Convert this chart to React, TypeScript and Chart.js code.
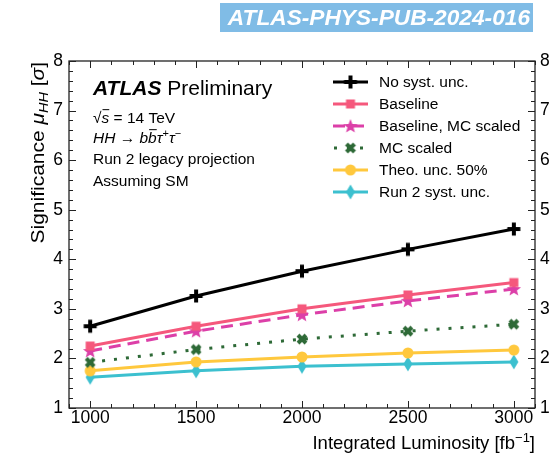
import React, { useEffect, useRef } from "react";
import { Chart, registerables } from "chart.js";

Chart.register(...registerables);

// ---------- data ----------
const luminosity = [1000, 1500, 2000, 2500, 3000];
const noSyst = [2.65, 3.26, 3.76, 4.2, 4.61];
const baseline = [2.25, 2.65, 3.0, 3.28, 3.53];
const baselineMC = [2.15, 2.55, 2.88, 3.16, 3.4];
const mcScaled = [1.92, 2.18, 2.39, 2.55, 2.69];
const theoUnc50 = [1.75, 1.93, 2.03, 2.11, 2.17];
const run2Syst = [1.62, 1.75, 1.84, 1.89, 1.93];

const seriesLabels = [
  "No syst. unc.",
  "Baseline",
  "Baseline, MC scaled",
  "MC scaled",
  "Theo. unc. 50%",
  "Run 2 syst. unc.",
];
const xTicks = [1000, 1500, 2000, 2500, 3000];
const yTicks = [1, 2, 3, 4, 5, 6, 7, 8];

// ---------- styles ----------
const seriesColors = ["#000000", "#f5587c", "#dc3fa8", "#2e6a37", "#ffc83d", "#3cc0cf"];
const seriesDash: number[][] = [[], [], [12, 7], [3, 9], [], []];
const seriesMarkers = ["plus", "square", "star", "x", "circle", "diamond"];
const FONT = '"Liberation Sans", Arial, Helvetica, sans-serif';

function makeMarker(kind: string, color: string): HTMLCanvasElement {
  const S = 20;
  const c = document.createElement("canvas");
  c.width = S;
  c.height = S;
  const g = c.getContext("2d")!;
  g.fillStyle = color;
  g.strokeStyle = color;
  const m = S / 2;
  g.beginPath();
  switch (kind) {
    case "plus":
      g.fillRect(m - 6.5, m - 2, 13, 4);
      g.fillRect(m - 2, m - 6.5, 4, 13);
      break;
    case "square":
      g.fillRect(m - 4.5, m - 4.5, 9, 9);
      break;
    case "star": {
      for (let i = 0; i < 10; i++) {
        const r = i % 2 === 0 ? 7.5 : 3.2;
        const a = -Math.PI / 2 + (i * Math.PI) / 5;
        const px = m + r * Math.cos(a);
        const py = m + 0.5 + r * Math.sin(a);
        if (i === 0) g.moveTo(px, py);
        else g.lineTo(px, py);
      }
      g.closePath();
      g.fill();
      break;
    }
    case "x":
      g.lineWidth = 4;
      g.moveTo(m - 4, m - 4);
      g.lineTo(m + 4, m + 4);
      g.moveTo(m + 4, m - 4);
      g.lineTo(m - 4, m + 4);
      g.stroke();
      g.beginPath();
      g.arc(m, m, 2.5, 0, Math.PI * 2);
      g.fill();
      break;
    case "circle":
      g.arc(m, m, 5.5, 0, Math.PI * 2);
      g.fill();
      break;
    case "diamond":
      g.moveTo(m, m - 7.5);
      g.lineTo(m + 4.5, m);
      g.lineTo(m, m + 7.5);
      g.lineTo(m - 4.5, m);
      g.closePath();
      g.fill();
      break;
  }
  return c;
}

type Run = { t: string; f: string; dy?: number; over?: boolean };

function drawRuns(ctx: CanvasRenderingContext2D, x: number, y: number, runs: Run[], align: "left" | "right" = "left") {
  let total = 0;
  for (const r of runs) {
    ctx.font = r.f;
    total += ctx.measureText(r.t).width;
  }
  let cx = align === "right" ? x - total : x;
  ctx.textAlign = "left";
  ctx.textBaseline = "alphabetic";
  for (const r of runs) {
    ctx.font = r.f;
    const w = ctx.measureText(r.t).width;
    ctx.fillText(r.t, cx, y + (r.dy || 0));
    if (r.over) {
      const size = parseFloat(r.f.match(/([\d.]+)px/)![1]);
      ctx.save();
      ctx.lineWidth = 1;
      ctx.strokeStyle = ctx.fillStyle as string;
      ctx.beginPath();
      const oy = y - size * 0.86;
      ctx.moveTo(cx + 1, oy);
      ctx.lineTo(cx + w, oy);
      ctx.stroke();
      ctx.restore();
    }
    cx += w;
  }
  return total;
}

export default function App() {
  const ref = useRef<HTMLCanvasElement>(null);

  useEffect(() => {
    document.body.style.margin = "0";
    const markers = seriesMarkers.map((k, i) => makeMarker(k, seriesColors[i]));
    const seriesValues = [noSyst, baseline, baselineMC, mcScaled, theoUnc50, run2Syst];

    const datasets = seriesValues.map((vals, i) => ({
      label: seriesLabels[i],
      data: luminosity.map((x, j) => ({ x, y: vals[j] })),
      borderColor: seriesColors[i],
      backgroundColor: seriesColors[i],
      borderWidth: 3,
      borderDash: seriesDash[i],
      pointStyle: markers[i] as any,
      pointRadius: 7,
      yAxisID: "y",
      tension: 0,
    }));

    const tickFont = { family: FONT, size: 17.5 };

    const overlay = {
      id: "overlay",
      afterDraw(chart: any) {
        const { ctx, chartArea: a, scales } = chart;
        const xs = scales.x;
        const ys = scales.y;
        ctx.save();
        // frame
        ctx.strokeStyle = "#222";
        ctx.lineWidth = 1.3;
        ctx.strokeRect(a.left, a.top, a.right - a.left, a.bottom - a.top);
        // x ticks (inward, both sides)
        ctx.lineWidth = 1;
        const xMinorStep = 100;
        for (let v = xs.min; v <= xs.max + 1e-6; v += xMinorStep) {
          const px = Math.round(xs.getPixelForValue(v)) + 0.5;
          const major = xTicks.includes(Math.round(v));
          const len = major ? 7 : 4;
          ctx.beginPath();
          ctx.moveTo(px, a.bottom);
          ctx.lineTo(px, a.bottom - len);
          ctx.moveTo(px, a.top);
          ctx.lineTo(px, a.top + len);
          ctx.stroke();
        }
        const yMinorStep = 0.2;
        for (let k = 0; k * yMinorStep <= ys.max - ys.min + 1e-6; k++) {
          const v = ys.min + k * yMinorStep;
          const py = Math.round(ys.getPixelForValue(v)) + 0.5;
          const major = Math.abs(v - Math.round(v)) < 1e-6;
          const len = major ? 7 : 4;
          ctx.beginPath();
          ctx.moveTo(a.left, py);
          ctx.lineTo(a.left + len, py);
          ctx.moveTo(a.right, py);
          ctx.lineTo(a.right - len, py);
          ctx.stroke();
        }

        ctx.fillStyle = "#000";
        // ATLAS label block
        const tx = a.left + 24;
        drawRuns(ctx, tx, 95, [
          { t: "ATLAS", f: `italic bold 21px ${FONT}` },
          { t: " Preliminary", f: `21px ${FONT}` },
        ]);
        const f = `15.5px ${FONT}`;
        const fi = `italic 15.5px ${FONT}`;
        const fs = `11px ${FONT}`;
        drawRuns(ctx, tx, 123, [
          { t: "√", f },
          { t: "s", f: fi, over: true },
          { t: " = 14 TeV", f },
        ]);
        drawRuns(ctx, tx, 143, [
          { t: "HH", f: fi },
          { t: " → ", f },
          { t: "b", f: fi },
          { t: "b", f: fi, over: true },
          { t: "τ", f: fi },
          { t: "+", f: fs, dy: -6 },
          { t: "τ", f: fi },
          { t: "−", f: fs, dy: -6 },
        ]);
        drawRuns(ctx, tx, 164, [{ t: "Run 2 legacy projection", f }]);
        drawRuns(ctx, tx, 186, [{ t: "Assuming SM", f }]);

        // legend
        const lx0 = 333;
        const lx1 = 368;
        const ly0 = 82;
        const lstep = 22;
        chart.data.datasets.forEach((ds: any, i: number) => {
          const y = ly0 + i * lstep;
          ctx.save();
          ctx.strokeStyle = ds.borderColor;
          ctx.lineWidth = 3;
          ctx.setLineDash(ds.borderDash || []);
          if (ds.borderDash && ds.borderDash.length && ds.borderDash[0] < 5) {
            ctx.setLineDash([3, 10]);
            ctx.lineDashOffset = -1;
          }
          ctx.beginPath();
          ctx.moveTo(lx0, y);
          ctx.lineTo(lx1, y);
          ctx.stroke();
          ctx.restore();
          const mk = ds.pointStyle as HTMLCanvasElement;
          ctx.drawImage(mk, (lx0 + lx1) / 2 - mk.width / 2, y - mk.height / 2);
          ctx.fillStyle = "#000";
          ctx.font = `15.5px ${FONT}`;
          ctx.textBaseline = "middle";
          ctx.textAlign = "left";
          ctx.fillText(ds.label, 379, y + 1);
        });

        // x title
        ctx.fillStyle = "#000";
        drawRuns(
          ctx,
          a.right,
          449,
          [
            { t: "Integrated Luminosity [fb", f: `18.5px ${FONT}` },
            { t: "−1", f: `13px ${FONT}`, dy: -7 },
            { t: "]", f: `18.5px ${FONT}` },
          ],
          "right"
        );
        // y title (rotated, stretched along its length like the reference)
        ctx.save();
        ctx.translate(44, a.top + 1);
        ctx.rotate(-Math.PI / 2);
        ctx.scale(1.2, 1);
        drawRuns(
          ctx,
          0,
          0,
          [
            { t: "Significance ", f: `17.5px ${FONT}` },
            { t: "μ", f: `italic 17.5px ${FONT}` },
            { t: "HH", f: `italic 12px ${FONT}`, dy: 4 },
            { t: " [", f: `17.5px ${FONT}` },
            { t: "σ", f: `italic 17.5px ${FONT}` },
            { t: "]", f: `17.5px ${FONT}` },
          ],
          "right"
        );
        ctx.restore();

        // banner
        ctx.fillStyle = "#80bce6";
        ctx.fillRect(220, 3, 313, 29);
        ctx.fillStyle = "#ffffff";
        ctx.font = `italic bold 22.7px ${FONT}`;
        ctx.textAlign = "right";
        ctx.textBaseline = "alphabetic";
        ctx.fillText("ATLAS-PHYS-PUB-2024-016", 530, 25);
        ctx.restore();
      },
    };

    const chart = new Chart(ref.current!, {
      type: "line",
      data: { datasets: datasets as any },
      options: {
        responsive: false,
        animation: false,
        layout: { padding: { top: 61, left: 0, right: 0, bottom: 0 } },
        plugins: { legend: { display: false }, tooltip: { enabled: false } },
        scales: {
          x: {
            type: "linear",
            min: 900,
            max: 3100,
            afterBuildTicks: (s: any) => {
              s.ticks = xTicks.map((v) => ({ value: v }));
            },
            afterFit: (s: any) => {
              s.height = 48;
            },
            grid: { display: false, drawTicks: false },
            border: { display: false },
            ticks: {
              font: tickFont,
              color: "#000",
              padding: 0,
              maxRotation: 0,
              autoSkip: false,
              callback: (v: any) => String(v),
            },
          },
          y: {
            type: "linear",
            position: "left",
            min: 1,
            max: 8,
            afterBuildTicks: (s: any) => {
              s.ticks = yTicks.map((v) => ({ value: v }));
            },
            afterFit: (s: any) => {
              s.width = 69;
            },
            grid: { display: false, drawTicks: false },
            border: { display: false },
            ticks: { font: tickFont, color: "#000", padding: 6, callback: (v: any) => String(v) },
          },
          y2: {
            type: "linear",
            position: "right",
            min: 1,
            max: 8,
            afterBuildTicks: (s: any) => {
              s.ticks = yTicks.map((v) => ({ value: v }));
            },
            afterFit: (s: any) => {
              s.width = 21;
            },
            grid: { display: false, drawTicks: false },
            border: { display: false },
            ticks: { font: tickFont, color: "#000", padding: 5, callback: (v: any) => String(v) },
          },
        },
      },
      plugins: [overlay],
    });
    return () => chart.destroy();
  }, []);

  return <canvas ref={ref} width={556} height={456} style={{ display: "block" }} />;
}
